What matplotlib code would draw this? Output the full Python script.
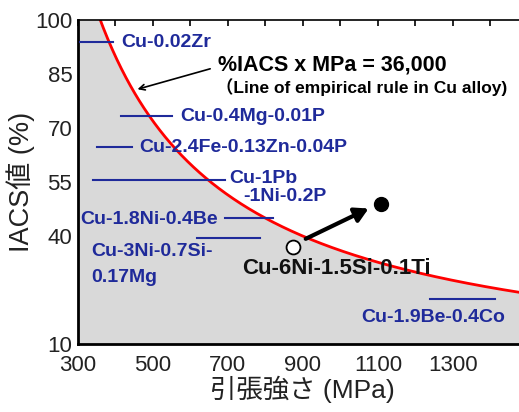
import numpy as np
import matplotlib

matplotlib.use("Agg")
import matplotlib.pyplot as plt

_BLUE = "#1f2a9a"
_GRAY = "#d9d9d9"
_FONT = ["Liberation Sans", "Noto Sans CJK JP", "DejaVu Sans"]

# empirical rule: %IACS x MPa = const
RULE_CONST = 36000

# alloy ranges: (name, strength from, strength to, conductivity)
alloy_names = ["Cu-0.02Zr", "Cu-0.4Mg-0.01P", "Cu-2.4Fe-0.13Zn-0.04P",
               "Cu-1Pb-1Ni-0.2P", "Cu-1.8Ni-0.4Be", "Cu-3Ni-0.7Si-0.17Mg",
               "Cu-1.9Be-0.4Co"]
strength_lo = [305, 415, 350, 341, 692, 617, 1239]
strength_hi = [395, 551, 444, 692, 820, 785, 1412]
conductivity = [93.9, 73.3, 64.7, 55.6, 45.0, 39.4, 22.5]

# new alloy: before -> after
new_strength = [873, 1108]
new_cond = [37.0, 48.9]

x_ticks = [300, 500, 700, 900, 1100, 1300]
y_ticks = [10, 40, 55, 70, 85, 100]

plt.rcParams["font.family"] = _FONT

fig = plt.figure(figsize=(5.19, 4.12), dpi=100)
ax = fig.add_axes([0.150, 0.165, 0.867, 0.786])

xs = np.linspace(300, 1500, 600)
rule = RULE_CONST / xs
ax.fill_between(xs, 0, np.minimum(rule, 100), color=_GRAY, lw=0, zorder=0)
ax.plot(xs, rule, color="#ff0000", lw=2, zorder=2)

for lo, hi, c in zip(strength_lo, strength_hi, conductivity):
    ax.plot([lo, hi], [c, c], color=_BLUE, lw=1.5, zorder=3)

tk = dict(color=_BLUE, fontsize=14, fontweight="bold", va="center", ha="left")
ax.text(417, 93.9, "Cu-0.02Zr", **tk)
ax.text(572, 73.3, "Cu-0.4Mg-0.01P", **tk)
ax.text(465, 64.7, "Cu-2.4Fe-0.13Zn-0.04P", **tk)
ax.text(703, 56.1, "Cu-1Pb", **tk)
ax.text(740, 51.1, "-1Ni-0.2P", **tk)
ax.text(306, 44.7, "Cu-1.8Ni-0.4Be", **tk)
ax.text(337, 35.6, "Cu-3Ni-0.7Si-", **tk)
ax.text(337, 28.6, "0.17Mg", **tk)
ax.text(1057, 17.5, "Cu-1.9Be-0.4Co", **tk)

ax.plot(new_strength[0], new_cond[0], "o", ms=10, mfc="white", mec="black",
        mew=1.3, zorder=5)
ax.plot(new_strength[1], new_cond[1], "o", ms=10, color="black", zorder=5)
ax.annotate("", xy=(1082, 48.0), xytext=(901, 38.9),
            arrowprops=dict(arrowstyle="-|>,head_length=0.8,head_width=0.45",
                            color="black", lw=3), zorder=4)
ax.text(738, 31.1, "Cu-6Ni-1.5Si-0.1Ti", fontsize=16, fontweight="bold",
        color="#111111", va="center", ha="left")

ax.text(673, 87.5, "%IACS x MPa = 36,000", fontsize=15.5, fontweight="bold",
        va="center", ha="left")
ax.text(668, 81.4, "（Line of empirical rule in Cu alloy)", fontsize=12.5,
        fontweight="bold", va="center", ha="left")
ax.annotate("", xy=(452, 80.6), xytext=(660, 86.7),
            arrowprops=dict(arrowstyle="->", color="black", lw=1.2))

ax.set_xlim(300, 1500)
ax.set_ylim(10, 100)
ax.set_xticks(x_ticks)
ax.set_yticks(y_ticks)
ax.set_xticks(range(300, 1501, 100), minor=True)
ax.tick_params(axis="both", which="both", labelsize=16, colors="#222222")
ax.tick_params(axis="x", which="both", direction="in", bottom=False,
               top=True, length=4, width=1.2, color="black")
ax.tick_params(axis="y", direction="in", left=False, right=True, length=4)
ax.tick_params(axis="x", pad=8)
ax.tick_params(axis="y", pad=4)

for side in ["left", "bottom"]:
    ax.spines[side].set_linewidth(2)
ax.spines["top"].set_linewidth(1.2)

ax.set_xlabel("引張強さ (MPa)", fontsize=19, color="#222222", labelpad=0)
ax.set_ylabel("IACS値 (%)", fontsize=19.5, color="#222222", labelpad=0)

fig.savefig("out.png", dpi=100)
plt.close(fig)
